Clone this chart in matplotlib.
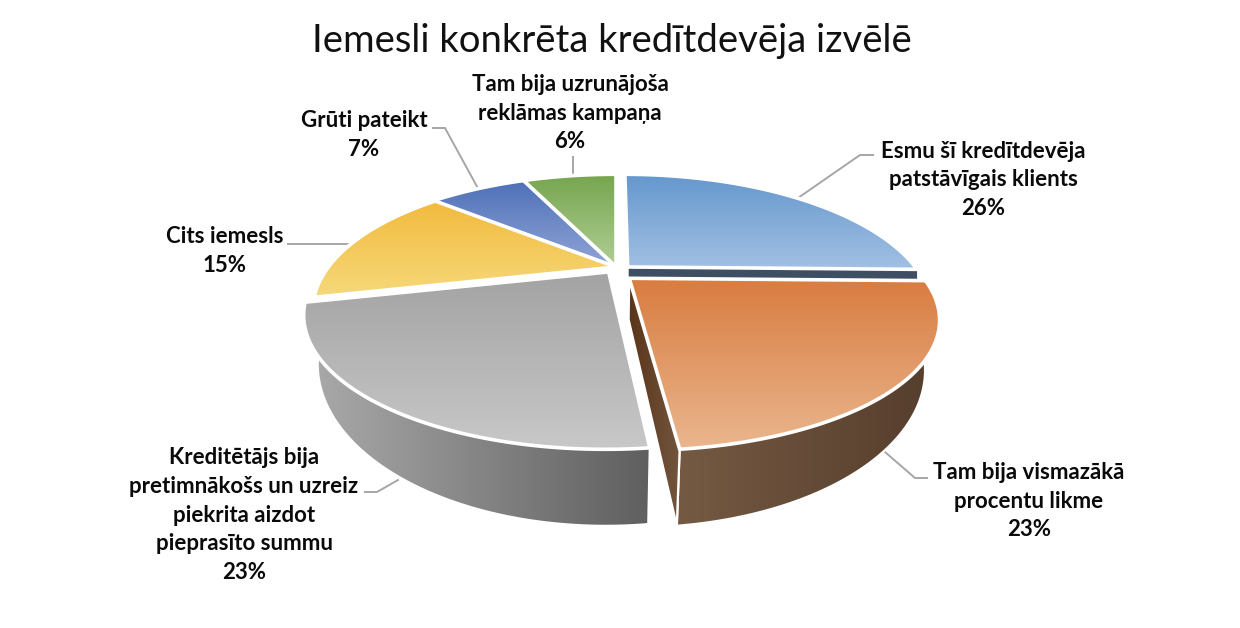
#!/usr/bin/env python3
"""3D style exploded pie: Iemesli konkrēta kredītdevēja izvēlē."""
import numpy as np
import matplotlib
matplotlib.use("Agg")
import matplotlib.pyplot as plt
from matplotlib.colors import LinearSegmentedColormap
from matplotlib.patches import Polygon

title = "Iemesli konkrēta kredītdevēja izvēlē"
labels = [
    "Esmu šī kredītdevēja\npatstāvīgais klients",
    "Tam bija vismazākā\nprocentu likme",
    "Kreditētājs bija\npretimnākošs un uzreiz\npiekrita aizdot\npieprasīto summu",
    "Cits iemesls",
    "Grūti pateikt",
    "Tam bija uzrunājoša\nreklāmas kampaņa",
]
values = [26, 23, 23, 15, 7, 6]

top_colors = [
    ("#6497CD", "#A2C0E3"),
    ("#D97C40", "#EAB68E"),
    ("#A3A3A3", "#C8C8C8"),
    ("#F2BA3E", "#F6D97A"),
    ("#4E70B8", "#90A5D6"),
    ("#76A54E", "#B0CF96"),
]
wall_colors = {1: ("#755A43", "#553D2C"), 2: ("#ABABAB", "#5F5F5F")}

# slice offsets and radius scale on the pie plane (ox, oy, sx, sy)
placement = [
    (0.04, 0.0, 0.985, 1.0),
    (0.044, 0.09, 0.98, 0.93),
    (-0.025, 0.04, 0.977, 0.975),
    (0, 0, 0.985, 1.0),
    (0, 0, 1.0, 1.0),
    (0, 0, 1.0, 1.0),
]

label_pos = [(983, 180), (1029, 501), (244, 515), (225, 251), (364, 135), (570, 113)]
leaders = [
    ([873, 860, 798], [155, 155, 198]),
    ([927, 915, 885], [478, 478, 452]),
    ([365, 377, 398], [492, 492, 480]),
    ([288, 353], [244, 244]),
    ([433, 445, 480], [128, 128, 192]),
    ([573, 573], [157, 178]),
]

# projection of the pie plane to pixels
CX, CY = 616, 267
R, S, K = 292, 122, 0.316
START = -2.5
WALL_A, WALL_B, WALL_F = 39, 0.206, 0.955

plt.rcParams["font.family"] = ["Lato", "DejaVu Sans"]


def project(px, py):
    w = 1 - K * py
    return CX + R * px / w, CY + S * py / w


def drop(x, y):
    # point on the lower face below a top face point
    return CX + (x - CX) * WALL_F, y + WALL_A + WALL_B * (y - CY)


def gradient_fill(ax, x, y, c1, c2, horizontal=False):
    cmap = LinearSegmentedColormap.from_list("g", [c1, c2])
    grad = np.linspace(0, 1, 256)
    grad = grad[None, :] if horizontal else grad[:, None]
    poly = Polygon(np.column_stack([x, y]), closed=True, fc="none", ec="none")
    ax.add_patch(poly)
    im = ax.imshow(grad, cmap=cmap, aspect="auto", interpolation="bilinear",
                   extent=(min(x), max(x), max(y), min(y)), zorder=1)
    im.set_clip_path(poly)
    return im


def outline(ax, x, y, lw=2.6):
    ax.add_patch(Polygon(np.column_stack([x, y]), closed=True, fc="none",
                         ec="white", lw=lw, joinstyle="miter", zorder=1))


fig = plt.figure(figsize=(12.4, 6.28), dpi=100)
ax = fig.add_axes([0, 0, 1, 1])
ax.axis("off")

# slice angles from the values, blue and green meet straight up at the top
edges = START + np.cumsum([0] + values) * 3.6
edges[0] += 2.5
edges[-1] += 2.5

geo = []
for i in range(len(values)):
    t = np.radians(np.linspace(edges[i], edges[i + 1], 120))
    ox, oy, sx, sy = placement[i]
    ax_x, ax_y = project(ox, oy)
    arc_x, arc_y = project(sx * np.sin(t) + ox, -sy * np.cos(t) + oy)
    geo.append((ax_x, ax_y, arc_x, arc_y))

# painter order: back slices, blue, grey, orange
for i in [5, 4, 3, 0, 2, 1]:
    ax_x, ax_y, arc_x, arc_y = geo[i]
    low_x, low_y = drop(arc_x, arc_y)
    apex_lx, apex_ly = drop(ax_x, ax_y)

    if i == 0:
        # only a thin part of the blue end cut shows
        fx = [ax_x + 1, arc_x[-1], arc_x[-1], ax_x + 1]
        fy = [ax_y, arc_y[-1], arc_y[-1] + 11, ax_y + 10]
        ax.add_patch(Polygon(np.column_stack([fx, fy]), closed=True,
                             fc="#3F4F63", ec="none", zorder=1))
    if i in wall_colors:
        wx = np.r_[arc_x, low_x[::-1]]
        wy = np.r_[arc_y, low_y[::-1]]
        c1, c2 = wall_colors[i]
        gradient_fill(ax, wx, wy, c1, c2, horizontal=True)
        outline(ax, wx, wy, lw=1.6)
    if i == 1:
        # left cut face of the orange slice
        fx = [ax_x, arc_x[-1], low_x[-1], apex_lx]
        fy = [ax_y, arc_y[-1], low_y[-1], apex_ly]
        gradient_fill(ax, fx, fy, "#5A3518", "#735640", horizontal=True)
        outline(ax, fx, fy, lw=1.6)

    tx = np.r_[ax_x, arc_x]
    ty = np.r_[ax_y, arc_y]
    gradient_fill(ax, tx, ty, top_colors[i][0], top_colors[i][1])
    outline(ax, tx, ty)

for lx, ly in leaders:
    ax.plot(lx, ly, color="#A6A6A6", lw=1.4, zorder=0.5, solid_joinstyle="miter")

for lab, val, (x, y) in zip(labels, values, label_pos):
    ax.text(x, y, f"{lab}\n{val}%", ha="center", va="center", fontsize=16,
            fontweight="bold", color="#0A0A0A", linespacing=1.45, zorder=3)

ax.text(612, 41, title, ha="center", va="center", fontsize=27.5, color="#111111", zorder=3)

ax.set_xlim(0, 1240)
ax.set_ylim(628, 0)
fig.savefig("out.png", dpi=100, facecolor="white")
